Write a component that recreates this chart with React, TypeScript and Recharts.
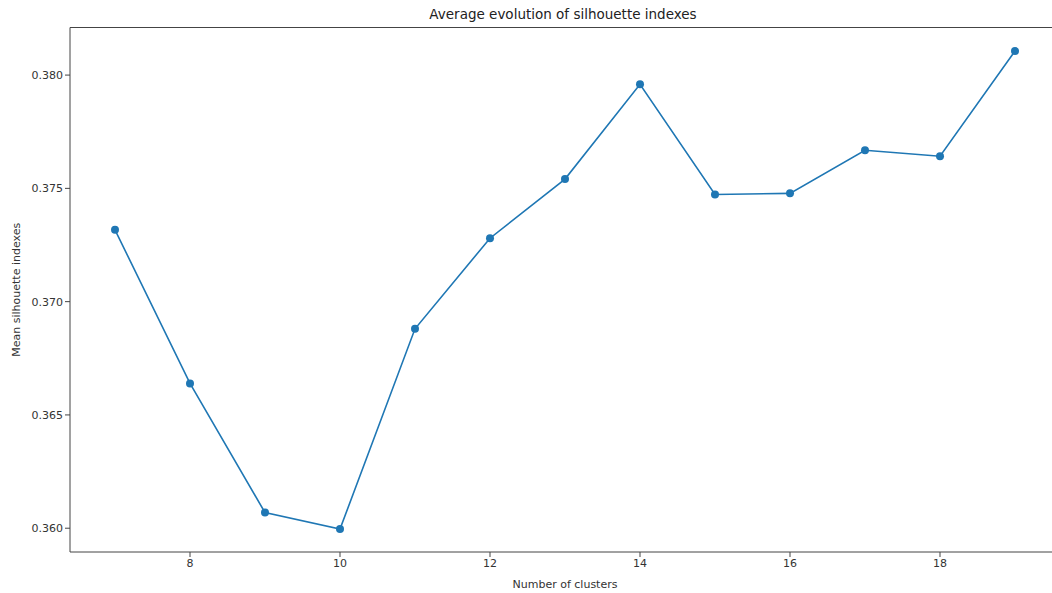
import React from "react";
import { LineChart, Line, XAxis, YAxis, ReferenceLine } from "recharts";

const clusters = [7, 8, 9, 10, 11, 12, 13, 14, 15, 16, 17, 18, 19];
const silhouette = [0.37317, 0.36639, 0.36069, 0.35996, 0.3688, 0.3728, 0.37541, 0.37959, 0.37473, 0.37478, 0.37668, 0.37642, 0.38106];
const xTicks = [8, 10, 12, 14, 16, 18];
const yTicks = [0.36, 0.365, 0.37, 0.375, 0.38];

const data = clusters.map((c, i) => ({ x: c, y: silhouette[i] }));

const X_MIN = 6.4;
const X_MAX = 19.6;
const Y_MIN = 0.35895;
const Y_MAX = 0.3821;

const FONT = "DejaVu Sans, sans-serif";
const AXIS = "#444";

export default function App() {
  return (
    <div style={{ position: "absolute", left: 0, top: 0, width: 1052, height: 593, overflow: "hidden", background: "#fff" }}>
      <div style={{ position: "absolute", left: 0, top: 6, width: 1052, textAlign: "center", fontFamily: FONT, fontSize: 13.5, color: "#222", paddingLeft: 74, boxSizing: "border-box" }}>
        Average evolution of silhouette indexes
      </div>
      <LineChart width={1070} height={593} data={data} margin={{ top: 27.5, right: 10, bottom: 0, left: 0 }}>
        <XAxis
          dataKey="x"
          type="number"
          domain={[X_MIN, X_MAX]}
          ticks={xTicks}
          allowDataOverflow
          height={41}
          stroke={AXIS}
          tickSize={5}
          tick={{ fill: "#333", fontSize: 11, fontFamily: FONT }}
          tickLine={{ stroke: AXIS }}
          label={{ value: "Number of clusters", position: "insideBottom", offset: 5, fill: "#333", fontSize: 11, fontFamily: FONT }}
        />
        <YAxis
          type="number"
          domain={[Y_MIN, Y_MAX]}
          ticks={yTicks}
          allowDataOverflow
          width={70}
          stroke={AXIS}
          tickSize={5}
          tickFormatter={(v: number) => v.toFixed(3)}
          tick={{ fill: "#333", fontSize: 11, fontFamily: FONT }}
          tickLine={{ stroke: AXIS }}
          label={{ value: "Mean silhouette indexes", angle: -90, position: "insideLeft", offset: 16, fill: "#333", fontSize: 11, fontFamily: FONT, style: { textAnchor: "middle" } }}
        />
        <ReferenceLine y={Y_MAX} stroke={AXIS} strokeWidth={1} ifOverflow="visible" />
        <ReferenceLine x={X_MAX} stroke={AXIS} strokeWidth={1} ifOverflow="visible" />
        <Line
          dataKey="y"
          stroke="#1f77b4"
          strokeWidth={1.6}
          dot={{ r: 4, fill: "#1f77b4", stroke: "#1f77b4", strokeWidth: 0 }}
          isAnimationActive={false}
        />
      </LineChart>
    </div>
  );
}
